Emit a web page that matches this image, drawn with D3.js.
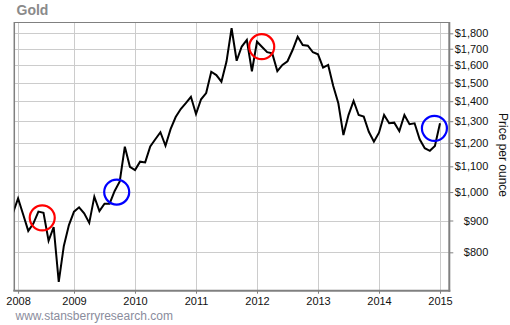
<!DOCTYPE html>
<html>
<head>
<meta charset="utf-8">
<script src="https://cdn.jsdelivr.net/npm/d3@7"></script>
<style>
  body { margin: 0; background: #fff; }
  text { font-family: "Liberation Sans", Arial, sans-serif; }
</style>
</head>
<body>
<svg class="d3svg" width="510" height="325"></svg>
<script>
var line_color = '#000000';
var grid_color = '#cccccc';
var axis_color = '#808080';
var title_color = '#8a8a8a';
var footer_color = '#8a8c9c';

// monthly gold price, one point per month (2008 has 11 points in the source)
var months = [
  "2007-12",
  "2008-01","2008-03","2008-04","2008-05","2008-06","2008-07","2008-08","2008-09","2008-10","2008-11","2008-12",
  "2009-01","2009-02","2009-03","2009-04","2009-05","2009-06","2009-07","2009-08","2009-09","2009-10","2009-11","2009-12",
  "2010-01","2010-02","2010-03","2010-04","2010-05","2010-06","2010-07","2010-08","2010-09","2010-10","2010-11","2010-12",
  "2011-01","2011-02","2011-03","2011-04","2011-05","2011-06","2011-07","2011-08","2011-09","2011-10","2011-11","2011-12",
  "2012-01","2012-02","2012-03","2012-04","2012-05","2012-06","2012-07","2012-08","2012-09","2012-10","2012-11","2012-12",
  "2013-01","2013-02","2013-03","2013-04","2013-05","2013-06","2013-07","2013-08","2013-09","2013-10","2013-11","2013-12",
  "2014-01","2014-02","2014-03","2014-04","2014-05","2014-06","2014-07","2014-08","2014-09","2014-10","2014-11","2014-12",
  "2015-01"
];

var prices = [
  926,
  977, 920, 866, 890, 930, 926, 835, 878, 717, 819, 885,
  930, 945, 924, 892, 983, 932, 958, 958, 1004, 1040, 1183, 1098,
  1085, 1119, 1116, 1184, 1216, 1248, 1187, 1262, 1320, 1360, 1390, 1423,
  1335, 1410, 1443, 1561, 1542, 1505, 1621, 1834, 1626, 1714, 1756, 1564,
  1745, 1711, 1679, 1671, 1565, 1601, 1623, 1692, 1777, 1724, 1719, 1678,
  1665, 1585, 1601, 1481, 1389, 1235, 1330, 1401, 1330, 1322, 1250, 1205,
  1246, 1330, 1290, 1293, 1253, 1330, 1286, 1290, 1216, 1176, 1165, 1186,
  1290
];

var price_ticks = [800, 900, 1000, 1100, 1200, 1300, 1400, 1500, 1600, 1700, 1800];

// highlighted spots: month + fraction of a step + price
var circle_months = ["2008-06", "2009-09", "2012-01", "2014-12"];
var circle_offsets = [0.75, 0.4, 0.93, -0.1];
var circle_prices = [909, 1000, 1713, 1266];
var circle_colors = ['#ff0000', '#0000ff', '#ff0000', '#0000ff'];

var svg = d3.select(".d3svg");

var plot_left = 14.3, plot_right = 449.3, plot_top = 22, plot_bottom = 290.7;

var x = d3.scalePoint().domain(months).range([13, 440]);
var y = d3.scaleLog().domain([694, 1877]).range([plot_bottom, plot_top]);

var data = months.map(function(m, i) { return {m: m, v: prices[i]}; });

// year ticks sit on the first point of every year
var year_ticks = months.filter(function(m, i) {
  return i > 0 && m.slice(0, 4) != months[i - 1].slice(0, 4);
});

svg.append("defs").append("clipPath").attr("id", "plot")
  .append("rect")
  .attr("x", plot_left).attr("y", plot_top)
  .attr("width", plot_right - plot_left).attr("height", plot_bottom - plot_top);

// grid
svg.append("g").selectAll("line")
  .data(price_ticks).enter().append("line")
  .attr("x1", plot_left).attr("x2", plot_right)
  .attr("y1", function(d) { return Math.round(y(d)) + 0.5; })
  .attr("y2", function(d) { return Math.round(y(d)) + 0.5; })
  .attr("stroke", grid_color).attr("stroke-width", 1);

svg.append("g").selectAll("line")
  .data(year_ticks).enter().append("line")
  .attr("x1", function(d) { return Math.round(x(d)) + 0.5; })
  .attr("x2", function(d) { return Math.round(x(d)) + 0.5; })
  .attr("y1", plot_top).attr("y2", plot_bottom)
  .attr("stroke", grid_color).attr("stroke-width", 1);

// frame
svg.append("line").attr("x1", plot_left).attr("x2", plot_right)
  .attr("y1", plot_top + 0.5).attr("y2", plot_top + 0.5)
  .attr("stroke", axis_color).attr("stroke-width", 1);
svg.append("line").attr("x1", plot_left).attr("x2", plot_left)
  .attr("y1", plot_top).attr("y2", plot_bottom)
  .attr("stroke", axis_color).attr("stroke-width", 1.5);

// price line
var lineFunction = d3.line()
  .x(function(d) { return x(d.m); })
  .y(function(d) { return y(d.v); });

svg.append("path")
  .attr("clip-path", "url(#plot)")
  .attr("d", lineFunction(data))
  .attr("fill", "none")
  .attr("stroke", line_color)
  .attr("stroke-width", 2);

// circles
var step = x.step();
svg.append("g").selectAll("circle")
  .data(circle_months).enter().append("circle")
  .attr("cx", function(d, i) { return x(d) + circle_offsets[i] * step; })
  .attr("cy", function(d, i) { return y(circle_prices[i]); })
  .attr("r", 12.5)
  .attr("fill", "none")
  .attr("stroke", function(d, i) { return circle_colors[i]; })
  .attr("stroke-width", 2.2);

// right axis
var yAxis = d3.axisRight(y)
  .tickValues(price_ticks)
  .tickSize(4)
  .tickPadding(3)
  .tickFormat(function(d) { return "$" + d3.format(",")(d); });

var ya = svg.append("g")
  .attr("transform", "translate(" + plot_right + ",0)")
  .call(yAxis);
ya.select(".domain").remove();
ya.selectAll(".tick line").attr("stroke", axis_color);
ya.selectAll(".tick text")
  .attr("x", 39)
  .attr("text-anchor", "end")
  .attr("font-size", 11)
  .attr("font-family", "Liberation Sans, Arial, sans-serif")
  .attr("fill", "#111");
svg.append("line").attr("x1", plot_right).attr("x2", plot_right)
  .attr("y1", plot_top).attr("y2", plot_bottom + 1)
  .attr("stroke", axis_color).attr("stroke-width", 2);

// bottom axis
var xAxis = d3.axisBottom(x)
  .tickValues(year_ticks)
  .tickSize(3)
  .tickPadding(4)
  .tickFormat(function(d) { return d.slice(0, 4); });

var xa = svg.append("g")
  .attr("transform", "translate(0," + plot_bottom + ")")
  .call(xAxis);
xa.select(".domain").remove();
xa.selectAll(".tick line").attr("stroke", axis_color);
xa.selectAll(".tick text")
  .attr("font-size", 11)
  .attr("font-family", "Liberation Sans, Arial, sans-serif")
  .attr("fill", "#111");
svg.append("line").attr("x1", plot_left - 1).attr("x2", plot_right + 1)
  .attr("y1", plot_bottom).attr("y2", plot_bottom)
  .attr("stroke", axis_color).attr("stroke-width", 2);

// labels
svg.append("text")
  .attr("x", 16.5).attr("y", 15)
  .attr("font-family", "DejaVu Sans, Verdana, sans-serif")
  .attr("font-weight", "bold")
  .attr("font-size", 14)
  .attr("fill", title_color)
  .text("Gold");

svg.append("text")
  .attr("transform", "translate(499,155) rotate(90)")
  .attr("text-anchor", "middle")
  .attr("font-size", 12)
  .attr("fill", "#111")
  .text("Price per ounce");

svg.append("text")
  .attr("x", 15.5).attr("y", 320)
  .attr("font-size", 12)
  .attr("fill", footer_color)
  .text("www.stansberryresearch.com");
</script>
</body>
</html>
